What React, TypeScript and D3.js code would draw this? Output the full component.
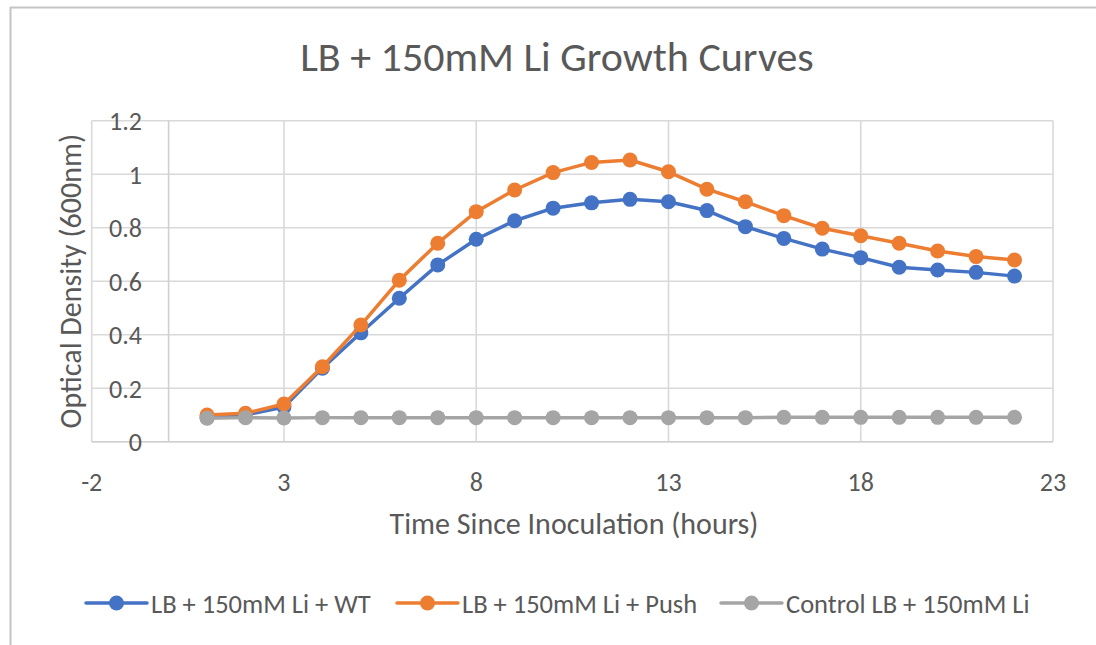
import React from "react";
import * as d3 from "d3";

const hours = [1, 2, 3, 4, 5, 6, 7, 8, 9, 10, 11, 12, 13, 14, 15, 16, 17, 18, 19, 20, 21, 22];
const wt = [0.09, 0.1, 0.13, 0.275, 0.407, 0.536, 0.661, 0.757, 0.826, 0.873, 0.893, 0.906, 0.897, 0.864, 0.804, 0.76, 0.72, 0.688, 0.652, 0.642, 0.633, 0.619];
const push = [0.1, 0.106, 0.141, 0.28, 0.436, 0.604, 0.742, 0.86, 0.941, 1.006, 1.044, 1.053, 1.009, 0.944, 0.897, 0.845, 0.798, 0.77, 0.742, 0.713, 0.692, 0.679];
const control = [0.088, 0.09, 0.089, 0.09, 0.09, 0.09, 0.09, 0.09, 0.09, 0.09, 0.09, 0.09, 0.09, 0.09, 0.09, 0.091, 0.091, 0.091, 0.091, 0.091, 0.091, 0.091];
const xTicks = [-2, 3, 8, 13, 18, 23];
const yTicks = [0, 0.2, 0.4, 0.6, 0.8, 1, 1.2];
const seriesNames = ["LB + 150mM Li + WT", "LB + 150mM Li + Push", "Control LB + 150mM Li"];
const seriesColors = ["#4472C4", "#ED7D31", "#A5A5A5"];
const title = "LB + 150mM Li Growth Curves";
const xTitle = "Time Since Inoculation (hours)";
const yTitle = "Optical Density (600nm)";

const FONT = "Carlito, Lato, 'Open Sans', sans-serif";
const TEXT = "#595959";
const GRID = "#d9d9d9";

export default function App() {
  const W = 1096;
  const H = 645;
  const x = d3.scaleLinear().domain([-2, 23]).range([91.7, 1053]);
  const y = d3.scaleLinear().domain([0, 1.2]).range([441.7, 120.7]);
  const series = [wt, push, control];
  const line = d3
    .line<number>()
    .x((_, i) => x(hours[i]))
    .y((d) => y(d));
  const legendX = [86, 397, 721];
  const legendY = 603;

  return (
    <svg
      width={W}
      height={H}
      style={{ position: "absolute", left: 0, top: 0, background: "#fff", display: "block" }}
      fontFamily={FONT}
    >
      <rect x={0} y={0} width={W} height={H} fill="#fff" />
      <line x1={10} x2={W} y1={7.5} y2={7.5} stroke="#c4c4c4" strokeWidth={2} />
      <line x1={10.5} x2={10.5} y1={7} y2={H} stroke="#c4c4c4" strokeWidth={2} />
      <text x={557} y={71} textAnchor="middle" fontSize={42} fill={TEXT}>
        {title}
      </text>
      {/* gridlines */}
      {yTicks.map((t) => (
        <line key={"gy" + t} x1={x(-2)} x2={x(23)} y1={y(t)} y2={y(t)} stroke={GRID} strokeWidth={1.6} />
      ))}
      {xTicks.map((t) => (
        <line key={"gx" + t} x1={x(t)} x2={x(t)} y1={y(0)} y2={y(1.2)} stroke={GRID} strokeWidth={1.6} />
      ))}
      {/* axes at zero */}
      <line x1={x(0)} x2={x(0)} y1={y(0)} y2={y(1.2)} stroke="#d0d0d0" strokeWidth={1.6} />
      <line x1={x(-2)} x2={x(23)} y1={y(0)} y2={y(0)} stroke="#d0d0d0" strokeWidth={1.6} />
      {/* tick labels */}
      {yTicks.map((t) => (
        <text key={"ty" + t} x={142} y={y(t)} dy="0.36em" textAnchor="end" fontSize={26} fill={TEXT}>
          {d3.format("~g")(t)}
        </text>
      ))}
      {xTicks.map((t) => (
        <text key={"tx" + t} x={x(t)} y={482} dy="0.36em" textAnchor="middle" fontSize={26} fill={TEXT}>
          {t}
        </text>
      ))}
      <text x={574} y={523} dy="0.36em" textAnchor="middle" fontSize={30} fill={TEXT}>
        {xTitle}
      </text>
      <text
        transform={`translate(70,${(y(0) + y(1.2)) / 2}) rotate(-90)`}
        dy="0.36em"
        textAnchor="middle"
        fontSize={30}
        fill={TEXT}
      >
        {yTitle}
      </text>
      {/* series */}
      {series.map((s, si) => (
        <g key={"s" + si}>
          <path d={line(s) || ""} fill="none" stroke={seriesColors[si]} strokeWidth={3.5} strokeLinejoin="round" />
          {s.map((v, i) => (
            <circle key={i} cx={x(hours[i])} cy={y(v)} r={7.5} fill={seriesColors[si]} />
          ))}
        </g>
      ))}
      {/* legend */}
      {seriesNames.map((n, i) => (
        <g key={"l" + i}>
          <line
            x1={legendX[i]}
            x2={legendX[i] + 61}
            y1={legendY}
            y2={legendY}
            stroke={seriesColors[i]}
            strokeWidth={3.5}
            strokeLinecap="round"
          />
          <circle cx={legendX[i] + 30.5} cy={legendY} r={7.5} fill={seriesColors[i]} />
          <text x={legendX[i] + 65} y={legendY} dy="0.36em" fontSize={26.5} fill={TEXT}>
            {n}
          </text>
        </g>
      ))}
    </svg>
  );
}
